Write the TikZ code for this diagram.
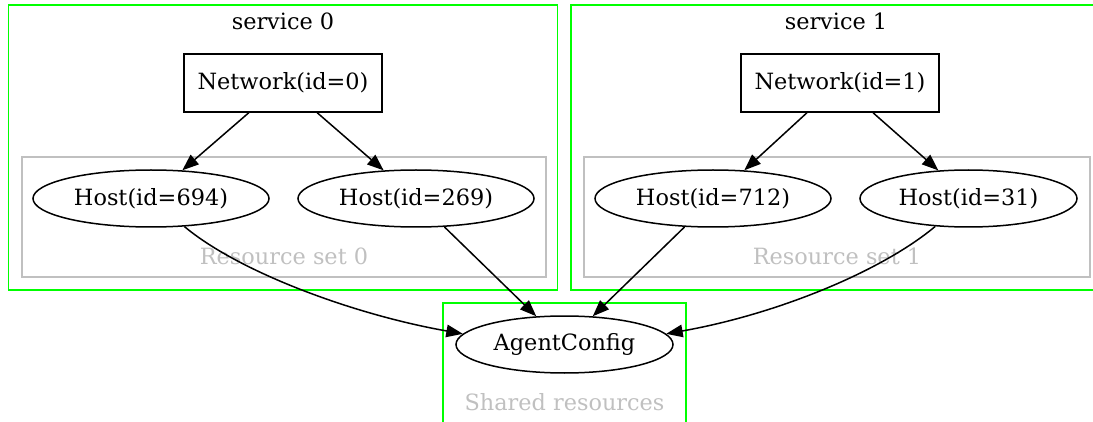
\documentclass[tikz,border=0pt]{standalone}
\usepackage{fontspec}
\setmainfont{DejaVu Serif}
\usetikzlibrary{shapes.geometric,arrows.meta}
\definecolor{clgreen}{RGB}{0,255,0}
\definecolor{silvergray}{RGB}{192,192,192}
\tikzset{
  every node/.style={font=\fontsize{22.4}{26}\selectfont},
  cluster/.style={draw=clgreen, line width=1.5pt},
  rset/.style={draw=silvergray, line width=1.5pt},
  netbox/.style={draw, rectangle, line width=1.5pt, minimum width=198pt, minimum height=58pt, inner sep=0pt},
  hostell/.style={draw, ellipse, line width=1.5pt, minimum width=236pt, minimum height=57pt, inner sep=0pt},
  smallell/.style={hostell, minimum width=217pt},
  title/.style={anchor=base, inner sep=0pt},
  graylbl/.style={anchor=base, inner sep=0pt, text=silvergray},
  arr/.style={-{Triangle[length=16.5pt,width=12.5pt]}, line width=1.5pt},
}
\begin{document}
\begin{tikzpicture}[x=1pt,y=1pt]
\useasboundingbox (0,0) rectangle (1093,-422);
% clusters
\draw[cluster] (8.5,-5) rectangle (557.5,-290);
\draw[cluster] (1100,-5) -- (571,-5) -- (571,-290) -- (1100,-290);
\draw[rset] (22,-157) rectangle (546,-277);
\draw[rset] (584,-157) rectangle (1090,-277);
\draw[cluster] (443,-430) -- (443,-303) -- (686,-303) -- (686,-430);
% labels
\node[title] (s0) at (283,-30) {service 0};
\node[title] (s1) at (836,-30) {service 1};
\node[graylbl] (r0) at (284,-265) {Resource set 0};
\node[graylbl] (r1) at (837,-265) {Resource set 1};
\node[graylbl] (sh) at (564.5,-410) {Shared resources};
% nodes
\node[netbox] (n0) at (283,-83) {Network(id=0)};
\node[netbox] (n1) at (840,-83) {Network(id=1)};
\node[hostell] (h694) at (151,-198.5) {Host(id=694)};
\node[hostell] (h269) at (416,-198.5) {Host(id=269)};
\node[hostell] (h712) at (713,-198.5) {Host(id=712)};
\node[smallell] (h31) at (968.5,-198.5) {Host(id=31)};
\node[smallell] (ac) at (564.5,-344.5) {AgentConfig};
% edges
\draw[arr] (n0.-139) -- (h694.42);
\draw[arr] (n0.-41) -- (h269.139);
\draw[arr] (n1.-138) -- (h712.42);
\draw[arr] (n1.-42) -- (h31.137);
\draw[arr] (h694.-40) .. controls +(-40:70) and +(170:112) .. (ac.174);
\draw[arr] (h269.-45) -- (ac.135);
\draw[arr] (h712.-135) -- (ac.45);
\draw[arr] (h31.-140) .. controls +(-140:70) and +(10:112) .. (ac.6);
\end{tikzpicture}
\end{document}
